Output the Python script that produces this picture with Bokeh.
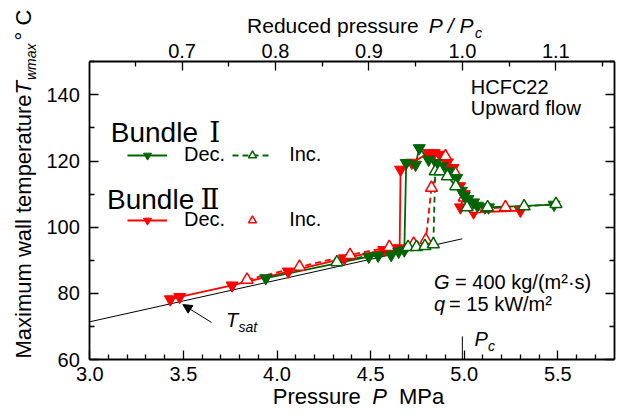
from bokeh.plotting import figure
from bokeh.models import (Range1d, LinearAxis, FixedTicker, NumeralTickFormatter, Label,
                          Arrow, NormalHead, Legend, LegendItem)
from bokeh.embed import file_html
from bokeh.resources import INLINE

PC = 4.99  # critical pressure, MPa

# saturation temperature line
tsat_p = [3.0, 3.5, 4.0, 4.5, 4.99]
tsat_t = [71.4, 77.7, 84.0, 90.3, 96.5]

# Bundle I, decreasing pressure (filled)
b1_dec_p = [5.48, 5.13, 5.11, 5.07, 5.05, 5.02, 5.00, 4.985, 4.96, 4.92, 4.88, 4.85, 4.81,
            4.76, 4.74, 4.69, 4.68, 4.65, 4.61, 4.54, 4.49, 3.94]
b1_dec_t = [106.8, 106.0, 106.0, 106.5, 107.5, 108.5, 109.5, 111.0, 114.9, 116.9, 118.4, 119.4, 120.4,
            123.9, 118.9, 119.4, 93.0, 92.6, 91.6, 91.4, 91.1, 84.6]

# Bundle I, increasing pressure (open)
b1_inc_p = [4.32, 4.70, 4.745, 4.79, 4.835, 4.845, 4.87, 4.91, 4.955, 5.015, 5.125, 5.32, 5.49]
b1_inc_t = [89.4, 94.0, 94.0, 94.3, 94.8, 116.9, 116.9, 115.4, 112.4, 106.0, 106.0, 106.3, 107.0]

# Bundle II, decreasing pressure (filled)
b2_dec_p = [5.30, 5.05, 4.98, 5.00, 4.975, 4.94, 4.91, 4.87, 4.84, 4.81, 4.72, 4.66,
            4.655, 4.625, 4.57, 4.36, 4.06, 3.76, 3.48, 3.43]
b2_dec_t = [105.0, 104.5, 106.0, 110.0, 112.4, 117.9, 119.6, 121.9, 122.4, 122.4, 119.5, 117.4,
            93.6, 93.6, 93.1, 90.6, 86.6, 82.4, 78.9, 78.2]

# Bundle II, increasing pressure (open)
b2_inc_p = [3.84, 4.12, 4.39, 4.60, 4.73, 4.795, 4.825, 4.90, 4.95, 5.00, 5.06, 5.22]
b2_inc_t = [84.1, 88.0, 91.6, 94.0, 95.0, 96.1, 111.9, 121.4, 116.5, 109.0, 105.5, 106.0]

x_ticks = [3.0, 3.5, 4.0, 4.5, 5.0, 5.5]
x_minor = [3.1, 3.2, 3.3, 3.4, 3.6, 3.7, 3.8, 3.9, 4.1, 4.2, 4.3, 4.4, 4.6, 4.7, 4.8, 4.9,
           5.1, 5.2, 5.3, 5.4, 5.6, 5.7]
y_ticks = [60, 80, 100, 120, 140]
y_minor = [70, 90, 110, 130, 150]
pr_ticks = [0.7, 0.8, 0.9, 1.0, 1.1]
pr_minor = [0.65, 0.75, 0.85, 0.95, 1.05, 1.15]

X_LO, X_HI = 3.0, 5.8
Y_LO, Y_HI = 60, 150

FONT = "Liberation Sans"
ROMAN = "DejaVu Serif"
GREEN = "#006400"
RED = "#ff0000"
TEAL = "#1f9aa6"

# canvas geometry: the plotting box inside a full-canvas frame
W, H = 616, 410
BOX_L, BOX_R, BOX_T, BOX_B = 89.3, 613.5, 61.3, 359.0
kx = (BOX_R - BOX_L) / (X_HI - X_LO)
ky = (BOX_B - BOX_T) / (Y_HI - Y_LO)
xr = Range1d(X_LO - BOX_L / kx, X_HI + (W - BOX_R) / kx)
yr = Range1d(Y_LO - (H - BOX_B) / ky, Y_HI + BOX_T / ky)

p = figure(width=W, height=H, x_range=xr, y_range=yr,
           output_backend="svg", toolbar_location=None,
           min_border_left=0, min_border_right=0, min_border_top=0, min_border_bottom=0,
           background_fill_color="white", border_fill_color="white",
           x_axis_location=None, y_axis_location=None)
p.xgrid.visible = False
p.ygrid.visible = False
p.outline_line_color = None

p.extra_x_ranges = {"pr": Range1d(xr.start / PC, xr.end / PC)}

bottom = LinearAxis(fixed_location=Y_LO, bounds=(X_LO, X_HI))
top = LinearAxis(x_range_name="pr", fixed_location=Y_HI, bounds=(X_LO / PC, X_HI / PC))
left = LinearAxis(fixed_location=X_LO, bounds=(Y_LO, Y_HI))
right = LinearAxis(fixed_location=X_HI, bounds=(Y_LO, Y_HI))
p.add_layout(bottom, "below")
p.add_layout(top, "above")
p.add_layout(left, "left")
p.add_layout(right, "right")


def style_axis(ax, ticks, minor, fmt, standoff, labels=True):
    ax.ticker = FixedTicker(ticks=ticks, minor_ticks=minor)
    ax.formatter = NumeralTickFormatter(format=fmt)
    ax.major_tick_in = 9
    ax.major_tick_out = 0
    ax.minor_tick_in = 5
    ax.minor_tick_out = 0
    ax.axis_line_width = 1.8
    ax.major_tick_line_width = 1.3
    ax.minor_tick_line_width = 1.3
    ax.major_label_text_font = FONT
    ax.major_label_text_font_size = "20px"
    ax.major_label_text_color = "black" if labels else None
    ax.major_label_standoff = standoff


style_axis(bottom, x_ticks, x_minor, "0.0", 7)
style_axis(left, y_ticks, y_minor, "0", 10)
style_axis(top, pr_ticks, pr_minor, "0.0", 4)
style_axis(right, y_ticks, y_minor, "0", 0, labels=False)

# saturation line and critical pressure mark
p.line(tsat_p, tsat_t, line_color="black", line_width=1)
p.segment(x0=[PC], y0=[Y_LO], x1=[PC], y1=[67], line_color="black", line_width=1)

MS = 12
r_b2d_l = p.line(b2_dec_p, b2_dec_t, line_color=RED, line_width=1.8)
r_b2i_l = p.line(b2_inc_p, b2_inc_t, line_color=RED, line_width=1.8, line_dash="6 4")
r_b1d_l = p.line(b1_dec_p, b1_dec_t, line_color=GREEN, line_width=1.8)
r_b1i_l = p.line(b1_inc_p, b1_inc_t, line_color=GREEN, line_width=1.8, line_dash="6 4")
r_b2d_s = p.scatter(b2_dec_p, b2_dec_t, marker="inverted_triangle", size=MS, fill_color=RED, line_color=RED)
r_b2i_s = p.scatter(b2_inc_p, b2_inc_t, marker="triangle", size=MS, fill_color="white", line_color=RED, line_width=1.5)
r_b1d_s = p.scatter(b1_dec_p, b1_dec_t, marker="inverted_triangle", size=MS, fill_color=GREEN, line_color=GREEN)
r_b1i_s = p.scatter(b1_inc_p, b1_inc_t, marker="triangle", size=MS, fill_color="white", line_color=GREEN, line_width=1.5)
# legend-only dotted line for Bundle II Inc.
r_teal = p.line(x=[], y=[], line_color=TEAL, line_width=2.5, line_dash="3 3")


def make_legend(items, loc):
    lg = Legend(items=items, orientation="horizontal", location=loc,
                glyph_width=40, glyph_height=20, label_standoff=17, spacing=7,
                padding=0, margin=0, border_line_color=None, background_fill_alpha=0,
                label_text_font=FONT, label_text_font_size="20px", label_text_color="black")
    p.add_layout(lg)


make_legend([LegendItem(label="Dec.", renderers=[r_b1d_l, r_b1d_s]),
             LegendItem(label="Inc.", renderers=[r_b1i_l, r_b1i_s])], (127, 244))
make_legend([LegendItem(label="Dec.", renderers=[r_b2d_l, r_b2d_s]),
             LegendItem(label="Inc.", renderers=[r_teal, r_b2i_s])], (127, 179))

SHIFT = 0.37  # baseline correction, in em


def lab(x, y, text, size=20, style="normal", angle=0, dx=0.0, dy=0.0, font=FONT, align="left"):
    """x, y in data units; dx, dy extra offsets in pixels."""
    if angle == 0:
        yy = y + (dy + SHIFT * size) / ky
        xx = x + dx / kx
    else:
        xx = x + (dx - SHIFT * size) / kx
        yy = y + dy / ky
    p.add_layout(Label(x=xx, y=yy, text=text,
                       text_font=font, text_font_size=f"{size}px", text_font_style=style,
                       angle=angle, angle_units="deg", text_align=align,
                       text_baseline="alphabetic", text_color="black"))


# bundle titles
lab(3.112, 125.5, "Bundle", size=28)
lab(3.112, 125.5, "Ⅰ", size=28, dx=104, font=ROMAN, align="center")
lab(3.092, 105.3, "Bundle", size=28)
lab(3.092, 105.3, "Ⅱ", size=28, dx=103, font=ROMAN, align="center")

# fluid / flow
lab(5.035, 140.1, "HCFC22")
lab(5.035, 140.1, "Upward flow", dy=-21)

# conditions
lab(4.839, 81.3, "G", style="italic")
lab(4.839, 81.3, " = 400 kg/(m²·s)", dx=21)
lab(4.839, 74.5, "q", style="italic")
lab(4.839, 74.5, " = 15 kW/m²", dx=15)

# Pc label
lab(5.055, 63.85, "P", style="italic")
lab(5.055, 63.85, "c", size=14, style="italic", dx=13.5, dy=-4)

# Tsat label and arrow
lab(3.727, 69.8, "T", style="italic")
lab(3.727, 69.8, "sat", size=14, style="italic", dx=12.5, dy=-5)
p.add_layout(Arrow(end=NormalHead(size=9, fill_color="black", line_color="black"),
                   x_start=3.650, y_start=71.2, x_end=3.497, y_end=76.6,
                   line_color="black", line_width=1))

# bottom axis title
lab(3.977, 46.4, "Pressure", size=22)
lab(3.977, 46.4, "P", size=22, style="italic", dx=99.6)
lab(3.977, 46.4, "MPa", size=22, dx=126.3)

# top axis title
lab(3.840, 158.5, "Reduced pressure", size=21)
lab(3.840, 158.5, "P / P", size=21, style="italic", dx=181.6)
lab(3.840, 158.5, "c", size=14, style="italic", dx=228, dy=-4)

# left axis title (rotated)
lab(2.687, 60.3, "Maximum wall temperature", size=22, angle=90)
lab(2.687, 60.3, "T", size=22, style="italic", angle=90, dy=264)
lab(2.687, 60.3, "wmax", size=14, style="italic", angle=90, dx=5, dy=278.5)
lab(2.687, 60.3, "° C", size=22, angle=90, dy=318)

open("out.html", "w").write(file_html(p, INLINE))
